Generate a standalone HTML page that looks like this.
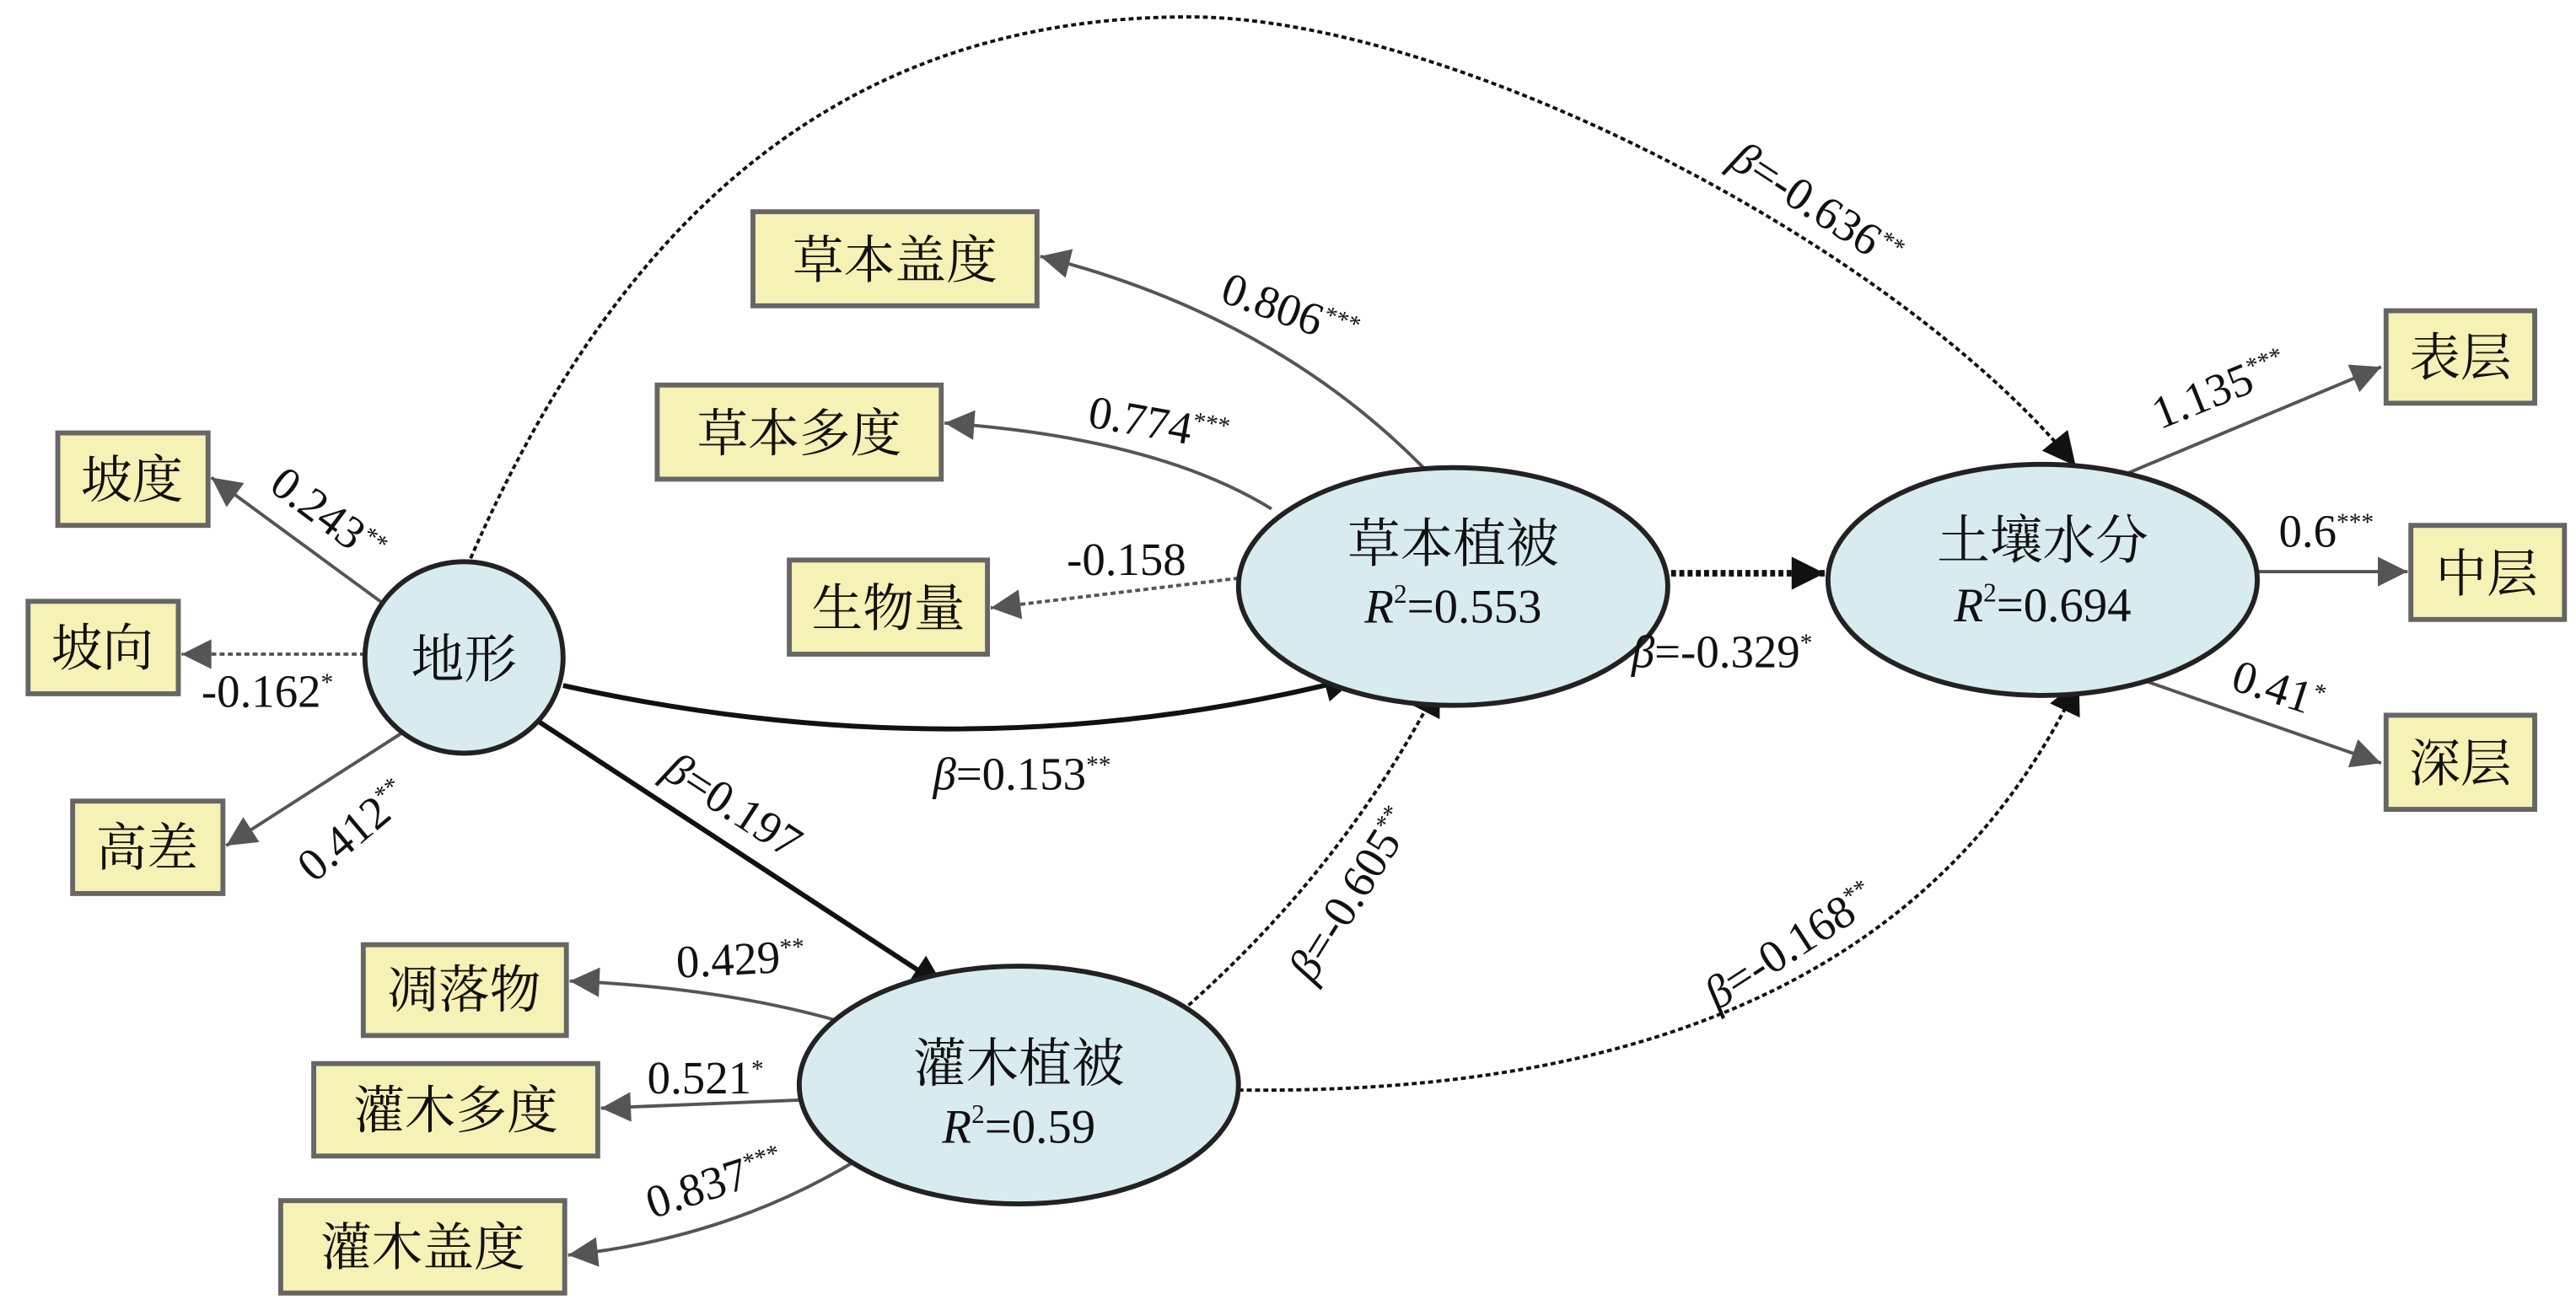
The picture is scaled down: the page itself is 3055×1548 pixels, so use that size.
<!DOCTYPE html>
<html><head><meta charset="utf-8"><style>
html,body{margin:0;padding:0;background:#fff;}
svg{display:block}
svg text{font-family:"Liberation Serif","Times New Roman","Noto Serif CJK SC",serif}
</style></head><body>
<svg width="3055" height="1548" viewBox="0 0 1560 790" xmlns="http://www.w3.org/2000/svg">
<defs>
<marker id="g" viewBox="0 0 10 10" refX="10" refY="5" markerWidth="24" markerHeight="18" orient="auto" markerUnits="userSpaceOnUse"><path d="M0,0 L10,5 L0,10 z" fill="#555"/></marker>
<marker id="k" viewBox="0 0 10 10" refX="10" refY="5" markerWidth="26" markerHeight="20" orient="auto" markerUnits="userSpaceOnUse"><path d="M0,0 L10,5 L0,10 z" fill="#111"/></marker>
</defs>
<g fill="none">
<g stroke="#555" stroke-width="2">
<path d="M233,366 L128,289" marker-end="url(#g)"/>
<path d="M221,396 L110,396" stroke-dasharray="3,2" marker-end="url(#g)"/>
<path d="M243,444 L137,512" marker-end="url(#g)"/>
<path d="M862,283 Q770,190 630,155" marker-end="url(#g)"/>
<path d="M770,308 Q700,265 572,256" marker-end="url(#g)"/>
<path d="M750,350 L600,368" stroke-dasharray="3,2" marker-end="url(#g)"/>
<path d="M1287,287 L1442,222" marker-end="url(#g)"/>
<path d="M1368,346 L1458,346" marker-end="url(#g)"/>
<path d="M1287,408 L1442,462" marker-end="url(#g)"/>
<path d="M514,620 Q440,598 345,594" marker-end="url(#g)"/>
<path d="M487,666 L364,671" marker-end="url(#g)"/>
<path d="M518,703 Q440,750 344,760" marker-end="url(#g)"/>
</g>
<g stroke="#111">
<path d="M341,415 Q590,470 822,410" stroke-width="3" marker-end="url(#k)"/>
<path d="M325,436 L572,598" stroke-width="3" marker-end="url(#k)"/>
<path d="M285,338 C380,120 520,10 720,10 C880,10 1150,150 1257,282" stroke-width="2" stroke-dasharray="3,2" marker-end="url(#k)"/>
<path d="M1012,347 L1105,347" stroke-width="4" stroke-dasharray="3,2" marker-end="url(#k)"/>
<path d="M716,612 Q815,525 872,413" stroke-width="2" stroke-dasharray="3,2" marker-end="url(#k)"/>
<path d="M750,660 Q1140,665 1259,412" stroke-width="2" stroke-dasharray="3,2" marker-end="url(#k)"/>
</g>
</g>
<g fill="#d8ebee" stroke="#222" stroke-width="3">
<ellipse cx="281" cy="398" rx="60" ry="58"/>
<ellipse cx="880" cy="355" rx="130" ry="72"/>
<ellipse cx="1237" cy="351" rx="130" ry="70"/>
<ellipse cx="617" cy="657" rx="133" ry="72"/>
</g>
<g fill="#f6f1b4" stroke="#666" stroke-width="3">
<rect x="35" y="262" width="91" height="56"/>
<rect x="17" y="364" width="91" height="56"/>
<rect x="44" y="485" width="91" height="56"/>
<rect x="456" y="128" width="172" height="57"/>
<rect x="398" y="233" width="172" height="57"/>
<rect x="478" y="339" width="120" height="57"/>
<rect x="1445" y="188" width="90" height="56"/>
<rect x="1460" y="318" width="93" height="57"/>
<rect x="1445" y="433" width="90" height="57"/>
<rect x="220" y="572" width="123" height="55"/>
<rect x="190" y="644" width="172" height="56"/>
<rect x="170" y="727" width="172" height="56"/>
</g>
<g font-size="31" text-anchor="middle" fill="#111">
<text x="80" y="301">坡度</text>
<text x="62" y="403">坡向</text>
<text x="89" y="524">高差</text>
<text x="542" y="168">草本盖度</text>
<text x="484" y="273">草本多度</text>
<text x="538" y="379">生物量</text>
<text x="1490" y="227">表层</text>
<text x="1506" y="358">中层</text>
<text x="1490" y="473">深层</text>
<text x="281" y="610">凋落物</text>
<text x="276" y="683">灌木多度</text>
<text x="256" y="766">灌木盖度</text>
<text x="281" y="410" font-size="32">地形</text>
<text x="880" y="340" font-size="32">草本植被</text>
<text x="1237" y="338" font-size="32">土壤水分</text>
<text x="617" y="655" font-size="32">灌木植被</text>
</g>
<g font-size="29" text-anchor="middle" fill="#111">
<text x="880" y="377"><tspan font-style="italic">R</tspan><tspan font-size="16" dy="-12">2</tspan><tspan dy="12">=0.553</tspan></text>
<text x="1237" y="376"><tspan font-style="italic">R</tspan><tspan font-size="16" dy="-12">2</tspan><tspan dy="12">=0.694</tspan></text>
<text x="617" y="692"><tspan font-style="italic">R</tspan><tspan font-size="16" dy="-12">2</tspan><tspan dy="12">=0.59</tspan></text>
</g>
<g font-size="28" fill="#111">
<text transform="translate(162,296) rotate(37)">0.243<tspan font-size="15" dy="-10">**</tspan></text>
<text x="122" y="428">-0.162<tspan font-size="15" dy="-10">*</tspan></text>
<text transform="translate(190,535) rotate(-40)">0.412<tspan font-size="15" dy="-10">**</tspan></text>
<text transform="translate(738,182) rotate(20)">0.806<tspan font-size="15" dy="-10">***</tspan></text>
<text transform="translate(658,258) rotate(10)">0.774<tspan font-size="15" dy="-10">***</tspan></text>
<text x="646" y="348">-0.158</text>
<text transform="translate(1308,260) rotate(-22)">1.135<tspan font-size="15" dy="-10">***</tspan></text>
<text x="1380" y="331">0.6<tspan font-size="15" dy="-10">***</tspan></text>
<text transform="translate(1350,417) rotate(18)">0.41<tspan font-size="15" dy="-10">*</tspan></text>
<text transform="translate(410,592) rotate(-3)">0.429<tspan font-size="15" dy="-10">**</tspan></text>
<text x="392" y="662">0.521<tspan font-size="15" dy="-10">*</tspan></text>
<text transform="translate(395,738) rotate(-18)">0.837<tspan font-size="15" dy="-10">***</tspan></text>
<text transform="translate(1046,100) rotate(33)"><tspan font-style="italic">β</tspan>=-0.636<tspan font-size="15" dy="-10">**</tspan></text>
<text x="988" y="404"><tspan font-style="italic">β</tspan>=-0.329<tspan font-size="15" dy="-10">*</tspan></text>
<text x="565" y="478"><tspan font-style="italic">β</tspan>=0.153<tspan font-size="15" dy="-10">**</tspan></text>
<text transform="translate(400,470) rotate(33)"><tspan font-style="italic">β</tspan>=0.197</text>
<text transform="translate(795,596) rotate(-58)"><tspan font-style="italic">β</tspan>=-0.605<tspan font-size="15" dy="-10">**</tspan></text>
<text transform="translate(1040,612) rotate(-33)"><tspan font-style="italic">β</tspan>=-0.168<tspan font-size="15" dy="-10">**</tspan></text>
</g>
</svg>
</body></html>
